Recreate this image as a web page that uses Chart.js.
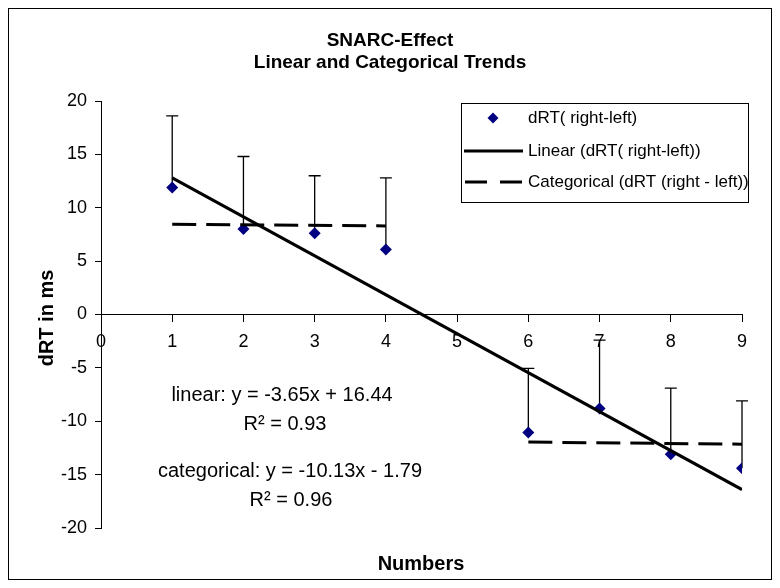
<!DOCTYPE html>
<html>
<head>
<meta charset="utf-8">
<script src="https://cdn.jsdelivr.net/npm/chart.js@4.4.0/dist/chart.umd.min.js"></script>
<style>
  html, body { margin: 0; padding: 0; background: #fff; }
  #wrap { width: 780px; height: 588px; }
</style>
</head>
<body>
<div id="wrap"><canvas id="chart" width="780" height="588"></canvas></div>
<script>
const numbers = [1, 2, 3, 4, 6, 7, 8, 9];
const dRT = [11.9, 8.0, 7.6, 6.1, -11.05, -8.8, -13.1, -14.4];
const dRTError = [6.7, 6.8, 5.4, 6.7, 6.0, 6.4, 6.2, 6.3];
const linearX = [1, 9];
const linearY = [12.8, -16.4];
const categoricalX = [1, 4, 5, 6, 9];
const categoricalY = [8.45, 8.3, null, -11.95, -12.15];
const xTicks = [0, 1, 2, 3, 4, 5, 6, 7, 8, 9];
const yTicks = [-20, -15, -10, -5, 0, 5, 10, 15, 20];
const seriesLabels = ['dRT( right-left)', 'Linear (dRT( right-left))', 'Categorical (dRT (right - left))'];
const titleLines = ['SNARC-Effect', 'Linear and Categorical Trends'];
const xTitle = 'Numbers';
const yTitle = 'dRT in ms';
const equationLines = ['linear: y = -3.65x + 16.44', 'R\u00b2 = 0.93', 'categorical: y = -10.13x - 1.79', 'R\u00b2 = 0.96'];

const FONT = '"Liberation Sans", Arial, sans-serif';
const navy = '#000080';

const pts = (xs, ys) => xs.map((x, i) => ({ x, y: ys[i] }));

// plus-only error bars with caps, under the markers
const errorBars = {
  id: 'errorBars',
  beforeDatasetsDraw(chart) {
    const { ctx, scales: { y } } = chart;
    const meta = chart.getDatasetMeta(0);
    ctx.save();
    ctx.strokeStyle = '#000';
    ctx.lineWidth = 1.3;
    meta.data.forEach((pt, i) => {
      const top = y.getPixelForValue(dRT[i] + dRTError[i]);
      ctx.beginPath();
      ctx.moveTo(pt.x, pt.y);
      ctx.lineTo(pt.x, top);
      ctx.moveTo(pt.x - 6, top);
      ctx.lineTo(pt.x + 6, top);
      ctx.stroke();
    });
    ctx.restore();
  }
};

// titles, equations, legend box and outer frame
const decorations = {
  id: 'decorations',
  afterDraw(chart) {
    const { ctx } = chart;
    ctx.save();
    ctx.strokeStyle = '#000';
    ctx.lineWidth = 1;
    ctx.strokeRect(8.5, 8.5, 763, 571);

    ctx.fillStyle = '#000';
    ctx.textAlign = 'center';
    ctx.textBaseline = 'alphabetic';
    ctx.font = 'bold 19px ' + FONT;
    ctx.fillText(titleLines[0], 390, 46);
    ctx.fillText(titleLines[1], 390, 68);

    ctx.font = 'bold 20px ' + FONT;
    ctx.fillText(xTitle, 421, 570);
    ctx.save();
    ctx.translate(53, 318);
    ctx.rotate(-Math.PI / 2);
    ctx.fillText(yTitle, 0, 0);
    ctx.restore();

    ctx.font = '20px ' + FONT;
    ctx.fillText(equationLines[0], 282, 401);
    ctx.fillText(equationLines[1], 285, 430);
    ctx.fillText(equationLines[2], 290, 477);
    ctx.fillText(equationLines[3], 291, 506);

    // legend
    ctx.strokeRect(461.5, 103.5, 287, 99);
    const rows = [118, 151, 182];
    ctx.fillStyle = navy;
    Chart.helpers.drawPoint(ctx, { pointStyle: 'rectRot', radius: 5.5, borderWidth: 0 }, 493, rows[0]);

    ctx.strokeStyle = '#000';
    ctx.lineWidth = 3;
    ctx.beginPath();
    ctx.moveTo(464, rows[1]);
    ctx.lineTo(523, rows[1]);
    ctx.stroke();
    ctx.setLineDash([22, 13]);
    ctx.beginPath();
    ctx.moveTo(465, rows[2]);
    ctx.lineTo(522, rows[2]);
    ctx.stroke();
    ctx.setLineDash([]);

    ctx.fillStyle = '#000';
    ctx.font = '17px ' + FONT;
    ctx.textAlign = 'left';
    ctx.textBaseline = 'middle';
    seriesLabels.forEach((t, i) => ctx.fillText(t, 528, rows[i]));
    ctx.restore();
  }
};

new Chart(document.getElementById('chart'), {
  type: 'scatter',
  data: {
    datasets: [
      {
        label: seriesLabels[0],
        data: pts(numbers, dRT),
        pointStyle: 'rectRot',
        pointRadius: 6,
        pointBackgroundColor: navy,
        pointBorderColor: navy,
        pointBorderWidth: 0,
        showLine: false,
        order: 3
      },
      {
        label: seriesLabels[1],
        data: pts(linearX, linearY),
        showLine: true,
        borderColor: '#000',
        borderWidth: 3,
        pointRadius: 0,
        order: 1
      },
      {
        label: seriesLabels[2],
        data: pts(categoricalX, categoricalY),
        showLine: true,
        spanGaps: false,
        borderColor: '#000',
        borderWidth: 3,
        borderDash: [24, 10],
        pointRadius: 0,
        order: 2
      }
    ]
  },
  options: {
    responsive: false,
    animation: false,
    layout: { padding: { left: 0, top: 101, right: 38, bottom: 60 } },
    plugins: {
      legend: { display: false },
      tooltip: { enabled: false },
      title: { display: false }
    },
    scales: {
      x: {
        type: 'linear',
        min: 0,
        max: 9,
        position: { y: 0 },
        afterBuildTicks: axis => { axis.ticks = xTicks.map(v => ({ value: v })); },
        grid: { drawOnChartArea: false, drawTicks: true, tickLength: 7, color: '#000' },
        border: { color: '#000', width: 1 },
        ticks: { color: '#000', padding: 10, font: { family: FONT, size: 18 } }
      },
      y: {
        min: -20,
        max: 20,
        afterBuildTicks: axis => { axis.ticks = yTicks.map(v => ({ value: v })); },
        afterFit: axis => { axis.width = 101; },
        grid: { drawOnChartArea: false, drawTicks: true, tickLength: 6, color: '#000' },
        border: { color: '#000', width: 1 },
        ticks: { color: '#000', padding: 8, font: { family: FONT, size: 18 } }
      }
    }
  },
  plugins: [errorBars, decorations]
});
</script>
</body>
</html>
